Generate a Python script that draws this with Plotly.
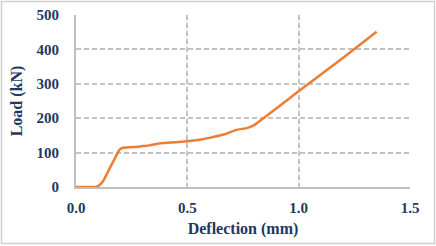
import plotly.graph_objects as go

deflection = [0, 0.05, 0.09, 0.1, 0.12, 0.14, 0.16, 0.18, 0.195, 0.21, 0.23, 0.26, 0.3, 0.33,
              0.38, 0.45, 0.5, 0.57, 0.62, 0.66, 0.68, 0.72, 0.77, 0.8, 1.0, 1.2, 1.35]
load = [0, 0, 0, 3, 15, 40, 65, 90, 108, 114, 115, 116, 119, 121,
        127, 130, 133, 139, 146, 152, 156, 166, 172, 180, 278, 376, 451]

x_ticks = [0, 0.5, 1.0, 1.5]
x_tick_labels = ["0.0", "0.5", "1.0", "1.5"]
y_ticks = [0, 100, 200, 300, 400, 500]

navy = "#1F3864"
font_family = "Liberation Serif, Times New Roman, serif"

fig = go.Figure()
fig.add_trace(go.Scatter(x=deflection, y=load, mode="lines",
                         line=dict(color="#ED7D31", width=2.5, shape="spline", smoothing=0.4),
                         showlegend=False, hoverinfo="skip"))

W, H = 436, 246
ml, mr, mt, mb = 76, 26, 15, 59
pw, ph = W - ml - mr, H - mt - mb

def px(xp):
    return (xp - ml) / pw

def py(yp):
    return (H - mb - yp) / ph

fig.add_shape(type="rect", xref="paper", yref="paper",
              x0=px(1.5), x1=px(434.5), y0=py(243.5), y1=py(1.5),
              line=dict(color="#d0d0d0", width=1.5), fillcolor="rgba(0,0,0,0)", layer="above")

grid = dict(showgrid=True, gridcolor="#c4c4c4", griddash="5px,3px", gridwidth=1.5,
            showline=True, linecolor="#bfbfbf", linewidth=2, zeroline=False, ticks="",
            automargin=False)

fig.update_layout(
    width=W, height=H,
    margin=dict(l=ml, r=mr, t=mt, b=mb),
    paper_bgcolor="white", plot_bgcolor="white",
    font=dict(family=font_family, color=navy, size=15),
    xaxis=dict(range=[0, 1.5], tickvals=x_ticks, ticktext=x_tick_labels,
               ticklabelstandoff=6,
               tickfont=dict(family=font_family, size=15, color=navy, weight="bold"),
               title=dict(text="<b>Deflection (mm)</b>", standoff=8,
                          font=dict(family=font_family, size=16, color=navy)),
               **grid),
    yaxis=dict(range=[0, 500], tickvals=y_ticks,
               ticklabelstandoff=12,
               tickfont=dict(family=font_family, size=15, color=navy, weight="bold"),
               title=dict(text="<b>Load (kN)</b>", standoff=10,
                          font=dict(family=font_family, size=16, color=navy)),
               **grid),
)

fig.write_html("out.html", config={"displayModeBar": False},
               post_script="document.body.style.margin='0';")
